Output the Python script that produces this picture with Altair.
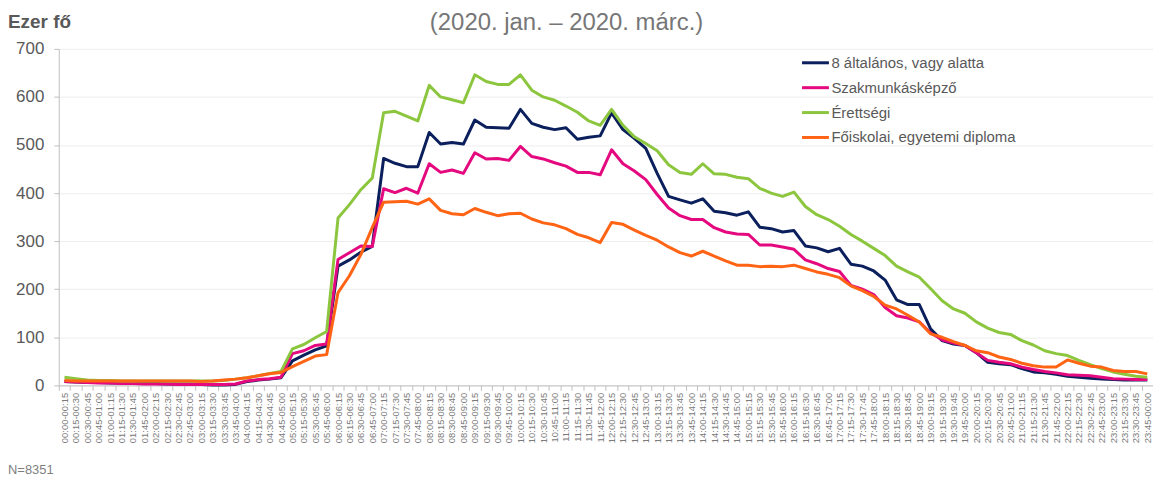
import altair as alt
import pandas as pd

# ---- category labels (15-minute slots) ----
slots = []
for i in range(96):
    h1, m1 = divmod(i * 15, 60)
    h2, m2 = divmod(((i + 1) * 15) % 1440, 60)
    slots.append(f"{h1:02d}:{m1:02d}-{h2:02d}:{m2:02d}")

series_names = [
    "8 általános, vagy alatta",
    "Szakmunkásképző",
    "Érettségi",
    "Főiskolai, egyetemi diploma",
]
series_colors = ["#0a1f5c", "#e5097f", "#8cc63e", "#ff6314"]

elementary = [8, 7, 6, 6, 5, 5, 4, 4, 4, 3, 3, 3, 2, 1, 1, 2,
              8, 11, 13, 16, 51, 63, 74, 82, 248, 261, 277, 289,
              472, 462, 455, 455, 526, 502, 505, 502, 552, 537, 536, 535,
              574, 545, 537, 532, 536, 512, 516, 519, 567, 532, 514, 493,
              441, 393, 386, 379, 388, 362, 359, 354, 361, 329, 326, 319,
              322, 290, 286, 278, 285, 252, 248, 238, 219, 178, 168, 168,
              117, 93, 86, 83, 68, 48, 45, 43, 35, 28, 26, 23,
              19, 17, 15, 13, 12, 11, 11, 11]
vocational = [8, 7, 6, 5, 5, 4, 4, 3, 3, 3, 2, 2, 2, 2, 2, 3,
              9, 12, 14, 17, 66, 72, 83, 86, 262, 276, 290, 289,
              409, 401, 410, 400, 461, 443, 448, 441, 484, 471, 472, 468,
              497, 476, 471, 463, 456, 443, 443, 438, 490, 461, 446, 428,
              397, 369, 353, 345, 345, 328, 319, 315, 314, 292, 292, 288,
              283, 261, 253, 243, 237, 208, 200, 189, 162, 145, 140, 132,
              109, 95, 88, 83, 68, 52, 48, 45, 38, 33, 29, 26,
              22, 21, 20, 17, 14, 13, 12, 12]
secondary = [17, 14, 11, 10, 10, 9, 9, 9, 9, 9, 9, 9, 9, 9, 10, 13,
             16, 20, 25, 29, 76, 85, 99, 112, 348, 376, 407, 431,
             567, 570, 560, 550, 624, 600, 594, 588, 646, 632, 626, 626,
             646, 614, 600, 593, 581, 568, 550, 541, 574, 541, 517, 503,
             488, 459, 443, 439, 461, 440, 439, 433, 430, 410, 400, 393,
             402, 372, 355, 345, 331, 314, 300, 285, 270, 248, 236, 225,
             201, 176, 159, 150, 132, 119, 110, 106, 93, 84, 72, 66,
             62, 52, 43, 35, 28, 23, 19, 17]
college = [10, 9, 9, 9, 9, 9, 9, 9, 9, 9, 9, 9, 8, 9, 11, 13,
           16, 20, 24, 27, 39, 50, 61, 64, 193, 228, 272, 328,
           381, 382, 383, 377, 388, 364, 357, 355, 368, 360, 353, 357,
           358, 346, 338, 334, 326, 314, 307, 297, 339, 335, 323, 312,
           302, 288, 276, 269, 279, 269, 259, 250, 250, 247, 248, 247,
           250, 243, 236, 231, 224, 207, 197, 185, 167, 159, 146, 132,
           107, 100, 91, 83, 72, 68, 59, 54, 46, 41, 38, 38,
           53, 46, 40, 38, 31, 29, 29, 24]

y_ticks = [0, 100, 200, 300, 400, 500, 600, 700]
unit_label = "Ezer fő"
title_text = "(2020. jan. – 2020. márc.)"
note_text = "N=8351"

all_values = [elementary, vocational, secondary, college]
rows = []
for name, vals in zip(series_names, all_values):
    for s, v in zip(slots, vals):
        rows.append({"slot": s, "series": name, "value": v})
df = pd.DataFrame(rows)

FONT = "Liberation Sans"
W, H = 1099, 338

base = alt.Chart(df).mark_line(strokeWidth=3, strokeJoin="round").encode(
    x=alt.X(
        "slot:N",
        sort=slots,
        bandPosition=0.5,
        scale=alt.Scale(type="band", paddingInner=0, paddingOuter=0),
        axis=alt.Axis(
            title=None,
            labelAngle=270,
            labelFontSize=9.5,
            labelFont=FONT,
            labelColor="#7a7a7a",
            labelPadding=2,
            labelOverlap=False,
            labelBound=False,
            tickBand="extent",
            tickSize=5,
            tickColor="#bfbfbf",
            domainColor="#bfbfbf",
            grid=False,
        ),
    ),
    y=alt.Y(
        "value:Q",
        scale=alt.Scale(domain=[0, 700], nice=False, zero=True),
        axis=alt.Axis(
            title=None,
            values=y_ticks,
            labelFontSize=17,
            labelFont=FONT,
            labelColor="#595959",
            labelPadding=10,
            tickSize=5,
            tickColor="#bfbfbf",
            domainColor="#bfbfbf",
            gridColor="#ededed",
            grid=True,
        ),
    ),
    color=alt.Color(
        "series:N",
        scale=alt.Scale(domain=series_names, range=series_colors),
        legend=alt.Legend(
            title=None,
            orient="none",
            legendX=745,
            legendY=-1,
            symbolType="stroke",
            symbolSize=729,
            symbolStrokeWidth=3,
            labelFontSize=15,
            labelFont=FONT,
            labelColor="#595959",
            labelOffset=1,
            labelLimit=400,
            rowPadding=2,
        ),
    ),
)

layers = [base.transform_filter(alt.datum.series == n) for n in series_names]

unit = alt.Chart(pd.DataFrame({"t": [unit_label]})).mark_text(
    font=FONT, fontSize=19, fontWeight="bold", color="#595959",
    align="left", baseline="alphabetic",
).encode(text="t:N", x=alt.value(-51), y=alt.value(-21))

title = alt.Chart(pd.DataFrame({"t": [title_text]})).mark_text(
    font=FONT, fontSize=24, color="#767676",
    align="center", baseline="alphabetic",
).encode(text="t:N", x=alt.value(510), y=alt.value(-19))

note = alt.Chart(pd.DataFrame({"t": [note_text]})).mark_text(
    font=FONT, fontSize=13, color="#7f7f7f",
    align="left", baseline="alphabetic",
).encode(text="t:N", x=alt.value(-51), y=alt.value(H + 89))

chart = alt.layer(*layers, unit, title, note).properties(
    width=W,
    height=H,
    autosize=alt.AutoSizeParams(type="none"),
    padding={"left": 51, "top": 40, "right": 0, "bottom": 93},
).configure_view(stroke=None)

chart.save("out.html", embed_options={"renderer": "svg", "actions": False})
